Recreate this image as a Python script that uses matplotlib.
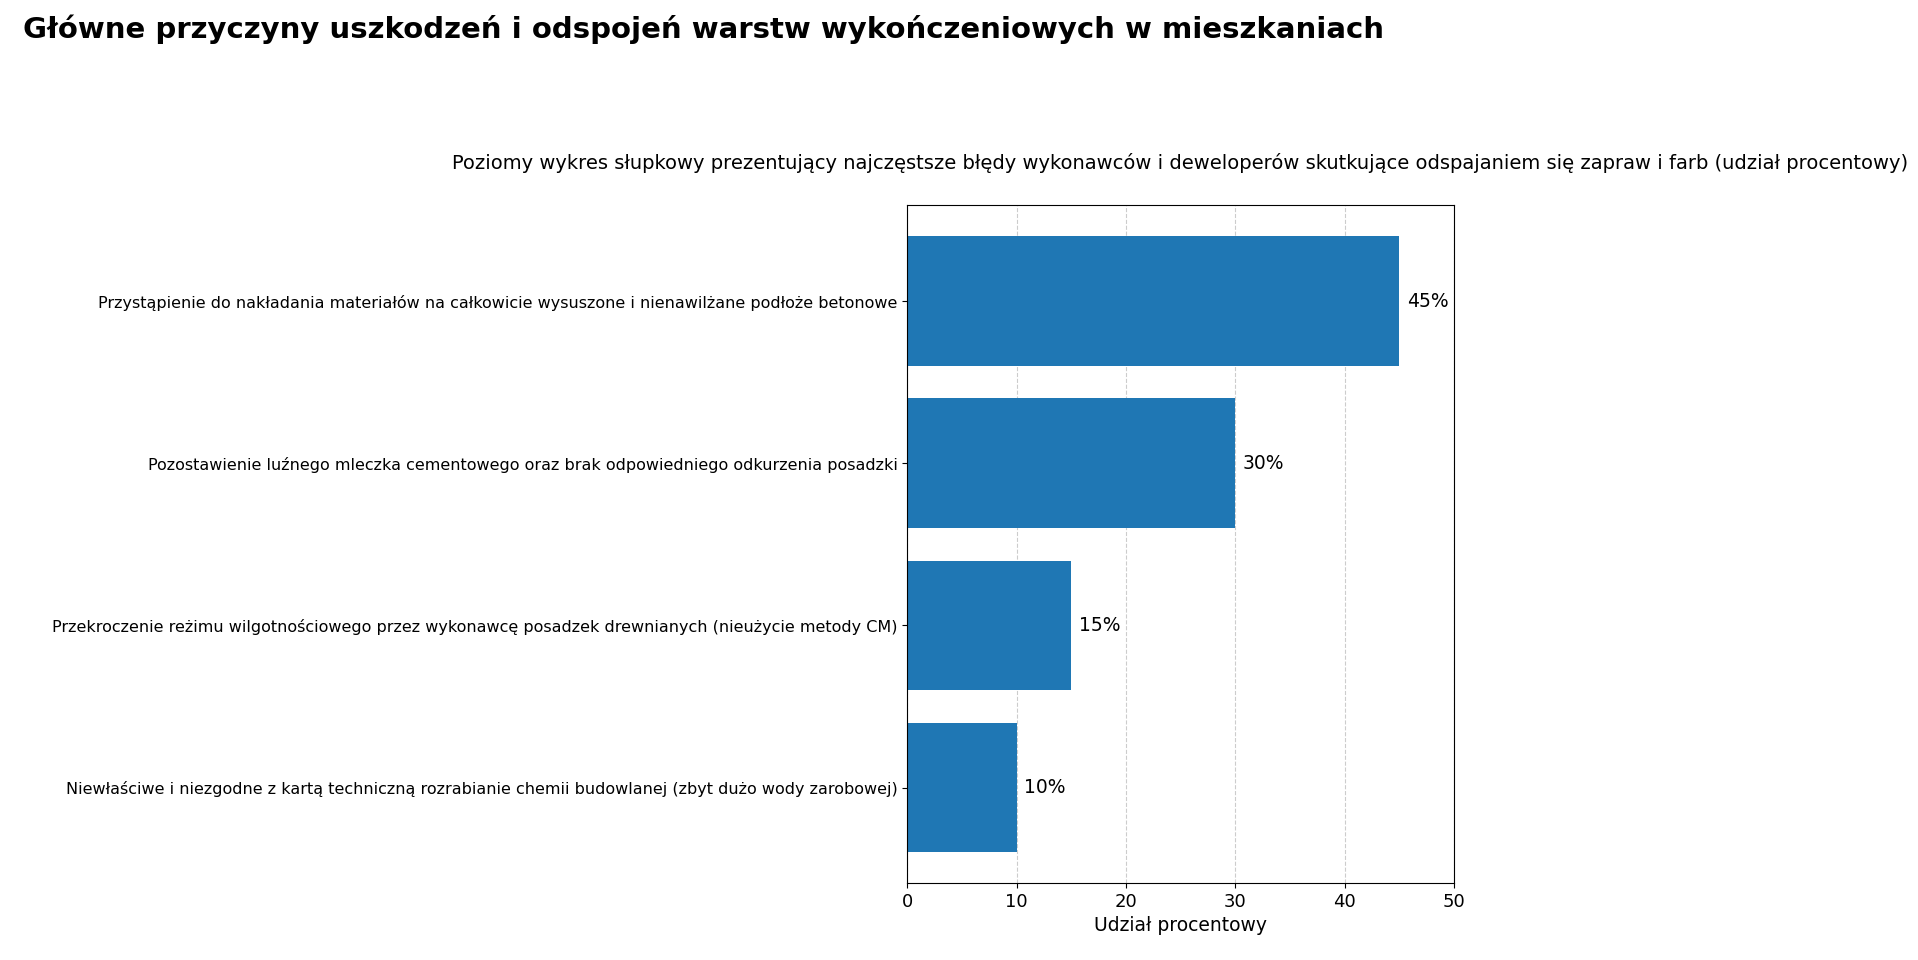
import matplotlib
matplotlib.use("Agg")
import matplotlib.pyplot as plt

categories = [
    "Przystąpienie do nakładania materiałów na całkowicie wysuszone i nienawilżane podłoże betonowe",
    "Pozostawienie luźnego mleczka cementowego oraz brak odpowiedniego odkurzenia posadzki",
    "Przekroczenie reżimu wilgotnościowego przez wykonawcę posadzek drewnianych (nieużycie metody CM)",
    "Niewłaściwe i niezgodne z kartą techniczną rozrabianie chemii budowlanej (zbyt dużo wody zarobowej)",
]
values = [45, 30, 15, 10]

fig = plt.figure(figsize=(19.18, 9.6), dpi=100)
ax = fig.add_axes([0.473, 0.080, 0.285, 0.706])
y = list(range(len(categories)))
ax.barh(y, values, color="#1f77b4", height=0.8, zorder=2)
ax.set_yticks(y)
ax.set_yticklabels(categories, fontsize=11.5)
ax.invert_yaxis()
ax.set_xlim(0, 50)
ax.tick_params(axis="x", labelsize=13)
ax.xaxis.grid(True, linestyle="--", color="#cccccc", zorder=0)
ax.set_axisbelow(True)
for yi, v in zip(y, values):
    ax.text(v + 0.7, yi, f"{v}%", va="center", fontsize=13.5)
ax.set_xlabel("Udział procentowy", fontsize=13.5)
ax.set_title("Poziomy wykres słupkowy prezentujący najczęstsze błędy wykonawców i deweloperów skutkujące odspajaniem się zapraw i farb (udział procentowy)",
             fontsize=14, pad=26)
fig.text(0.012, 0.985, "Główne przyczyny uszkodzeń i odspojeń warstw wykończeniowych w mieszkaniach",
         fontsize=21, fontweight="bold", ha="left", va="top")
fig.savefig("out.png", dpi=100)
